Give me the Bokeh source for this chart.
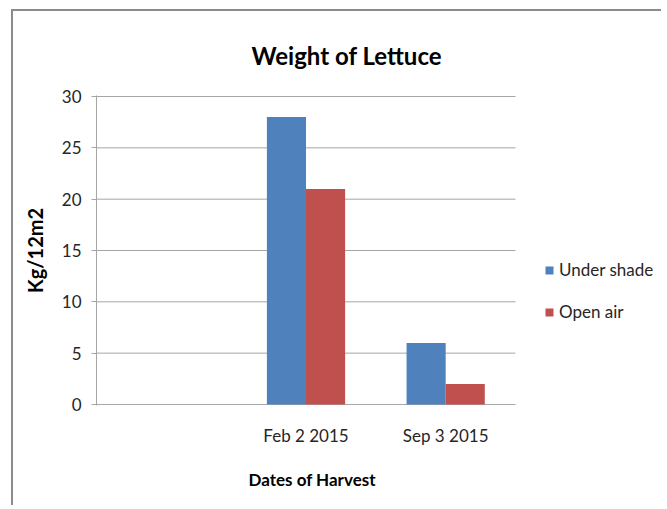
from bokeh.plotting import figure
from bokeh.models import (Range1d, ColumnDataSource, Legend, LegendItem,
                          Title, FixedTicker)
from bokeh.embed import file_html
from bokeh.resources import INLINE

# ---- data ----
dates = [" ", "Feb 2 2015", "Sep 3 2015"]
under_shade = [0, 28, 6]
open_air = [0, 21, 2]
series_names = ["Under shade", "Open air"]
y_ticks = [0, 5, 10, 15, 20, 25, 30]
title_text = "Weight of Lettuce"
x_label = "Dates of Harvest"
y_label = "Kg/12m2"

FONT = "Lato"
BLUE = "#4F81BD"
RED = "#C0504D"
GRID = "#A6A6A6"
TEXT = "#262626"
BORDER = "#8C8C8C"

W, H = 650, 496
ML, MT, MB = 83, 84, 100
BAR_W = 0.28
n = len(dates)
centers = [i + 0.5 for i in range(n)]
PX_PER_CAT = 139.67
x_end = (W - ML) / PX_PER_CAT

src = ColumnDataSource(dict(
    xs=[c - BAR_W / 2 for c in centers],
    xo=[c + BAR_W / 2 for c in centers],
    under=under_shade, open=open_air))

p = figure(width=W, height=H, output_backend="svg", toolbar_location=None,
           x_range=Range1d(0, x_end), y_range=Range1d(-0.1, 30.1),
           min_border_left=ML, min_border_right=0, min_border_top=MT, min_border_bottom=MB)
p.outline_line_color = None
p.background_fill_color = "white"
p.border_fill_color = "white"
p.margin = (9, 0, 0, 11)
p.styles = {"border-left": f"2px solid {BORDER}", "border-top": f"2px solid {BORDER}"}

# title
p.title.text = title_text
p.title.text_font = FONT
p.title.text_font_style = "bold"
p.title.text_font_size = "24px"
p.title.text_color = "black"
p.title.align = "left"
p.title.offset = 155
p.title.standoff = 51

# gridlines limited to the category area
p.segment(x0=0, x1=n, y0=y_ticks, y1=y_ticks, line_color=GRID, line_width=1)

r1 = p.vbar(x="xs", top="under", width=BAR_W, source=src, fill_color=BLUE, line_color=None)
r2 = p.vbar(x="xo", top="open", width=BAR_W, source=src, fill_color=RED, line_color=None)

# y axis
p.yaxis.ticker = FixedTicker(ticks=y_ticks)
p.yaxis.axis_line_color = GRID
p.yaxis.major_tick_line_color = GRID
p.yaxis.major_tick_out = 5
p.yaxis.major_tick_in = 0
p.yaxis.minor_tick_line_color = None
p.yaxis.major_label_text_font = FONT
p.yaxis.major_label_text_font_size = "17px"
p.yaxis.major_label_text_color = TEXT
p.yaxis.major_label_standoff = 10
p.yaxis.axis_label = y_label
p.yaxis.axis_label_text_font = FONT
p.yaxis.axis_label_text_font_style = "bold"
p.yaxis.axis_label_text_font_size = "20px"
p.yaxis.axis_label_text_color = "black"
p.yaxis.axis_label_standoff = 12

# x axis (category labels)
p.xaxis.ticker = FixedTicker(ticks=centers)
p.xaxis.major_label_overrides = {c: d for c, d in zip(centers, dates)}
p.xaxis.axis_line_color = None
p.xaxis.major_tick_line_color = None
p.xaxis.minor_tick_line_color = None
p.xaxis.major_label_text_font = FONT
p.xaxis.major_label_text_font_size = "17px"
p.xaxis.major_label_text_color = TEXT
p.xaxis.major_label_standoff = 13

# x axis title, under the category area
p.add_layout(Title(text=x_label, align="left", offset=152, standoff=36,
                   text_font=FONT, text_font_style="bold", text_font_size="17px",
                   text_color="black"), "below")

p.xgrid.grid_line_color = None
p.ygrid.grid_line_color = None

# legend inside the (wide) frame, right of the categories
legend = Legend(items=[LegendItem(label=series_names[0], renderers=[r1]),
                       LegendItem(label=series_names[1], renderers=[r2])],
                location=(448, 83), orientation="vertical",
                glyph_width=10, glyph_height=10, label_height=20, spacing=21,
                label_standoff=5, padding=0, margin=0,
                label_text_font=FONT, label_text_font_size="17px", label_text_color=TEXT,
                border_line_color=None, background_fill_alpha=0)
p.add_layout(legend, "center")

open("out.html", "w").write(file_html(p, INLINE))
